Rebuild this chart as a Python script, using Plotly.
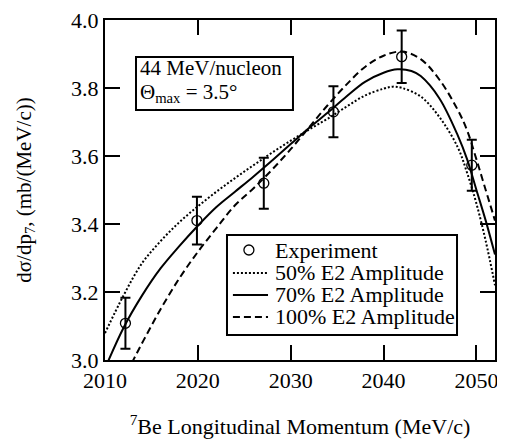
import plotly.graph_objects as go

# Experimental data
exp_x = [2012.2, 2019.9, 2027.1, 2034.6, 2041.95, 2049.5]
exp_y = [3.108, 3.41, 3.52, 3.73, 3.892, 3.573]
exp_err = [0.075, 0.07, 0.075, 0.075, 0.077, 0.075]

# Model curves
c50_x = [2010, 2012, 2014, 2016, 2018, 2020, 2022, 2024, 2026, 2028, 2030, 2032, 2034, 2036, 2038, 2040, 2041, 2042, 2044, 2046, 2048, 2049, 2050, 2051, 2052]
c50_y = [3.079, 3.19, 3.285, 3.35, 3.405, 3.452, 3.495, 3.535, 3.573, 3.61, 3.645, 3.678, 3.71, 3.745, 3.778, 3.798, 3.804, 3.80, 3.775, 3.715, 3.625, 3.55, 3.46, 3.35, 3.22]

c70_x = [2010, 2012, 2014, 2016, 2018, 2020, 2022, 2024, 2026, 2028, 2030, 2032, 2034, 2036, 2038, 2040, 2041.5, 2043, 2044, 2046, 2048, 2049, 2050, 2051, 2052]
c70_y = [2.975, 3.095, 3.19, 3.27, 3.335, 3.395, 3.45, 3.495, 3.54, 3.587, 3.635, 3.683, 3.728, 3.775, 3.818, 3.845, 3.855, 3.85, 3.835, 3.77, 3.66, 3.59, 3.50, 3.41, 3.31]

c100_x = [2010, 2012, 2014, 2016, 2018, 2020, 2022, 2024, 2026, 2028, 2030, 2032, 2034, 2036, 2038, 2040, 2042, 2044, 2046, 2048, 2049, 2050, 2051, 2052]
c100_y = [2.85, 2.945, 3.05, 3.15, 3.24, 3.318, 3.388, 3.455, 3.505, 3.56, 3.62, 3.685, 3.75, 3.81, 3.862, 3.895, 3.907, 3.885, 3.825, 3.735, 3.675, 3.59, 3.50, 3.41]

x_ticks = [2010, 2020, 2030, 2040, 2050]
y_ticks = [3.0, 3.2, 3.4, 3.6, 3.8, 4.0]
y_tick_text = ["3.0", "3.2", "3.4", "3.6", "3.8", "4.0"]

legend_labels = ["Experiment", "50% E2 Amplitude", "70% E2 Amplitude", "100% E2 Amplitude"]
info_lines = ["44 MeV/nucleon", "Θ<sub>max</sub> = 3.5°"]

FONT = "Liberation Serif, Times New Roman, serif"
DOT = "2px,2px"
DASH = "7px,4px"

fig = go.Figure()
fig.add_trace(go.Scatter(
    x=exp_x, y=exp_y, mode="markers", name=legend_labels[0], showlegend=False,
    marker=dict(symbol="circle-open", size=10, color="black", line=dict(width=1.3)),
    error_y=dict(type="data", array=exp_err, visible=True, color="black", thickness=2, width=5),
))
fig.add_trace(go.Scatter(
    x=c50_x, y=c50_y, mode="lines", name=legend_labels[1], showlegend=False,
    line=dict(color="black", width=2, dash=DOT, shape="spline"),
))
fig.add_trace(go.Scatter(
    x=c70_x, y=c70_y, mode="lines", name=legend_labels[2], showlegend=False,
    line=dict(color="black", width=2, shape="spline"),
))
fig.add_trace(go.Scatter(
    x=c100_x, y=c100_y, mode="lines", name=legend_labels[3], showlegend=False,
    line=dict(color="black", width=2, dash=DASH, shape="spline"),
))

axis_common = dict(
    showline=True, linecolor="black", linewidth=2, mirror="ticks",
    ticks="inside", ticklen=15, tickwidth=2, tickcolor="black",
    showgrid=False, zeroline=False, ticklabeloverflow="allow", automargin=False,
    tickfont=dict(family=FONT, size=22, color="black"),
)

# page body has an 8px margin, so the figure is 8px smaller than the window
fig.update_layout(
    width=497, height=433,
    margin=dict(l=97, r=10, t=12, b=81, autoexpand=False),
    paper_bgcolor="white", plot_bgcolor="white",
    font=dict(family=FONT, color="black", size=22),
    showlegend=False,
    xaxis=dict(
        range=[2010, 2052], tickvals=x_ticks,
        title=dict(text="<sup>7</sup>Be Longitudinal Momentum (MeV/c)", font=dict(family=FONT, size=22), standoff=26),
        **axis_common,
    ),
    yaxis=dict(
        range=[3.0, 4.0], tickvals=y_ticks, ticktext=y_tick_text,
        title=dict(text="dσ/dp<sub>7</sub>, (mb/(MeV/c))", font=dict(family=FONT, size=21), standoff=34),
        **axis_common,
    ),
)

# Info box
fig.add_shape(type="rect", xref="paper", yref="paper", x0=0.0795, x1=0.482, y0=0.735, y1=0.891,
              line=dict(color="black", width=2), fillcolor="white", layer="above")
fig.add_annotation(xref="paper", yref="paper", x=0.085, y=0.858, xanchor="left", yanchor="middle",
                   text=info_lines[0], showarrow=False, font=dict(family=FONT, size=21, color="black"))
fig.add_annotation(xref="paper", yref="paper", x=0.085, y=0.786, xanchor="left", yanchor="middle",
                   text=info_lines[1], showarrow=False, font=dict(family=FONT, size=21, color="black"))

# Legend box (drawn manually to match compact row spacing)
lx0, lx1, ly0, ly1 = 0.3128, 0.9026, 0.0735, 0.3676
fig.add_shape(type="rect", xref="paper", yref="paper", x0=lx0, x1=lx1, y0=ly0, y1=ly1,
              line=dict(color="black", width=2), fillcolor="white", layer="above")
rows_y = [0.3235, 0.2559, 0.1912, 0.1265]
sample_x0, sample_x1 = 0.328, 0.418
cx = 0.369
fig.add_shape(type="circle", xref="paper", yref="paper", xsizemode="pixel", ysizemode="pixel",
              xanchor=cx, yanchor=rows_y[0], x0=-5, x1=5, y0=-5, y1=5,
              line=dict(color="black", width=1.3), layer="above")
for yy, dash in zip(rows_y[1:], [DOT, "solid", DASH]):
    fig.add_shape(type="line", xref="paper", yref="paper", x0=sample_x0, x1=sample_x1, y0=yy, y1=yy,
                  line=dict(color="black", width=2, dash=dash), layer="above")
for yy, label in zip(rows_y, legend_labels):
    fig.add_annotation(xref="paper", yref="paper", x=0.432, y=yy, xanchor="left", yanchor="middle",
                       text=label, showarrow=False, font=dict(family=FONT, size=22, color="black"))

fig.write_html("out.html")
